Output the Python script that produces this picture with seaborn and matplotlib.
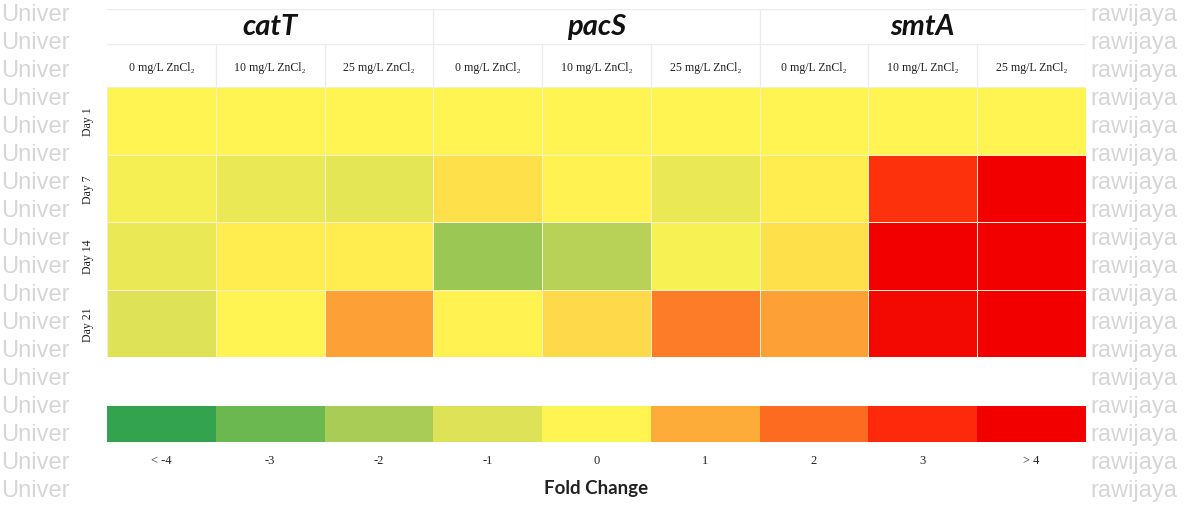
import numpy as np
import pandas as pd
import matplotlib
matplotlib.use("Agg")
import matplotlib.pyplot as plt
import seaborn as sns
from matplotlib.colors import LinearSegmentedColormap
from matplotlib.patches import Rectangle

# ---- data -------------------------------------------------------------
genes = ["catT", "pacS", "smtA"]
doses = ["0 mg/L ZnCl\u2082", "10 mg/L ZnCl\u2082", "25 mg/L ZnCl\u2082"]
days = ["Day 1", "Day 7", "Day 14", "Day 21"]

# log2 fold change per day (rows) for each gene x dose (columns)
catT = [[0.0, 0.0, 0.0],
        [-0.3, -0.6, -0.8],
        [-0.6, 0.1, 0.1],
        [-1.0, 0.0, 1.2]]
pacS = [[0.0, 0.0, 0.0],
        [0.3, 0.05, -0.6],
        [-2.2, -1.7, -0.2],
        [0.05, 0.4, 1.75]]
smtA = [[0.0, 0.0, 0.0],
        [0.1, 2.9, 4.0],
        [0.3, 4.0, 4.0],
        [1.2, 3.8, 4.0]]

scale_values = [-4, -3, -2, -1, 0, 1, 2, 3, 4]
scale_labels = ["< -4", "-3", "-2", "-1", "0", "1", "2", "3", "> 4"]
scale_colors = ["#34a350", "#6cb850", "#a8cc55", "#dde257", "#fff552",
                "#fdad3a", "#fd6d22", "#fd2a0a", "#f20000"]

# ---- build table ------------------------------------------------------
cols = pd.MultiIndex.from_product([genes, doses])
values = np.hstack([np.array(catT), np.array(pacS), np.array(smtA)])
df = pd.DataFrame(values, index=days, columns=cols)

cmap = LinearSegmentedColormap.from_list(
    "fold", [((v + 4) / 8, c) for v, c in zip(scale_values, scale_colors)])

sns.set_theme(style="white")
serif = ["Liberation Serif", "DejaVu Serif"]
sans = ["Lato", "DejaVu Sans"]

W, H = 1200, 506
fig = plt.figure(figsize=(W / 100, H / 100), dpi=100)
fig.patch.set_facecolor("white")

# ---- background watermark --------------------------------------------
bg = fig.add_axes([0, 0, 1, 1], zorder=-5)
bg.set_xlim(0, W)
bg.set_ylim(H, 0)
bg.axis("off")
wm = dict(color="#d6d6d6", fontsize=17, family=["Liberation Sans"], va="center")
for k in range(18):
    y = 15 + 28 * k
    bg.text(1, y, "Univer", ha="left", **wm)
    bg.text(1090, y, "rawijaya", ha="left", **wm)
bg.add_patch(Rectangle((100, 10), 990, 487, facecolor="white", edgecolor="none"))

# ---- heatmap ----------------------------------------------------------
left, right = 107, 1086
top_tbl, top_data, bottom_data = 10, 88, 358
row_h = (bottom_data - top_data) / 4
ax = fig.add_axes([left / W, 1 - bottom_data / H, (right - left) / W,
                   (bottom_data - top_tbl) / H])
sns.heatmap(df, ax=ax, cmap=cmap, vmin=-4, vmax=4, cbar=False,
            linewidths=0.5, linecolor="#f3efcf",
            xticklabels=False, yticklabels=days)
ytop = -(top_data - top_tbl) / row_h
ax.set_ylim(4, ytop)
ax.set_xlabel("")
ax.set_ylabel("")
ax.tick_params(axis="y", length=0, pad=9)
for t in ax.get_yticklabels():
    t.set_rotation(90)
    t.set_va("center")
    t.set_fontsize(8.5)
    t.set_family(serif)
    t.set_color("#222222")
for s in ax.spines.values():
    s.set_visible(False)

sub_y = -(top_data - 45) / row_h
line_c = "#ebebeb"
ax.plot([0, 9], [sub_y, sub_y], color=line_c, lw=0.9)
ax.plot([0, 9], [ytop, ytop], color=line_c, lw=0.9)
ax.plot([9, 9], [ytop, 0], color=line_c, lw=0.9)
for i in range(1, 9):
    y0 = ytop if i % 3 == 0 else sub_y
    ax.plot([i, i], [y0, 0], color=line_c, lw=0.9)

# gene titles
title_y = -(top_data - 27) / row_h
for g_i, g in enumerate(genes):
    ax.text(g_i * 3 + 1.5, title_y, g, ha="center", va="center",
            fontsize=21, fontweight="bold", fontstyle="italic",
            family=sans, color="#111111")
# dose labels
dose_y = -(top_data - 68) / row_h
for j in range(9):
    ax.text(j + 0.5, dose_y, doses[j % 3], ha="center", va="center",
            fontsize=8.6, family=serif, color="#222222")

# ---- colour key -------------------------------------------------------
cax = fig.add_axes([left / W, 1 - 443 / H, (right - left) / W, 36 / H])
key = pd.DataFrame([scale_values], columns=scale_labels)
sns.heatmap(key, ax=cax, cmap=cmap, vmin=-4, vmax=4, cbar=False,
            xticklabels=scale_labels, yticklabels=False, linewidths=0)
cax.tick_params(axis="x", length=0, pad=9)
for t in cax.get_xticklabels():
    t.set_rotation(0)
    t.set_fontsize(9)
    t.set_family(serif)
    t.set_color("#222222")
cax.set_xlabel("Fold Change", fontsize=13.5, fontweight="bold",
               family=sans, color="#222222", labelpad=9)
cax.set_ylabel("")

fig.savefig("out.png", dpi=100, facecolor="white")
